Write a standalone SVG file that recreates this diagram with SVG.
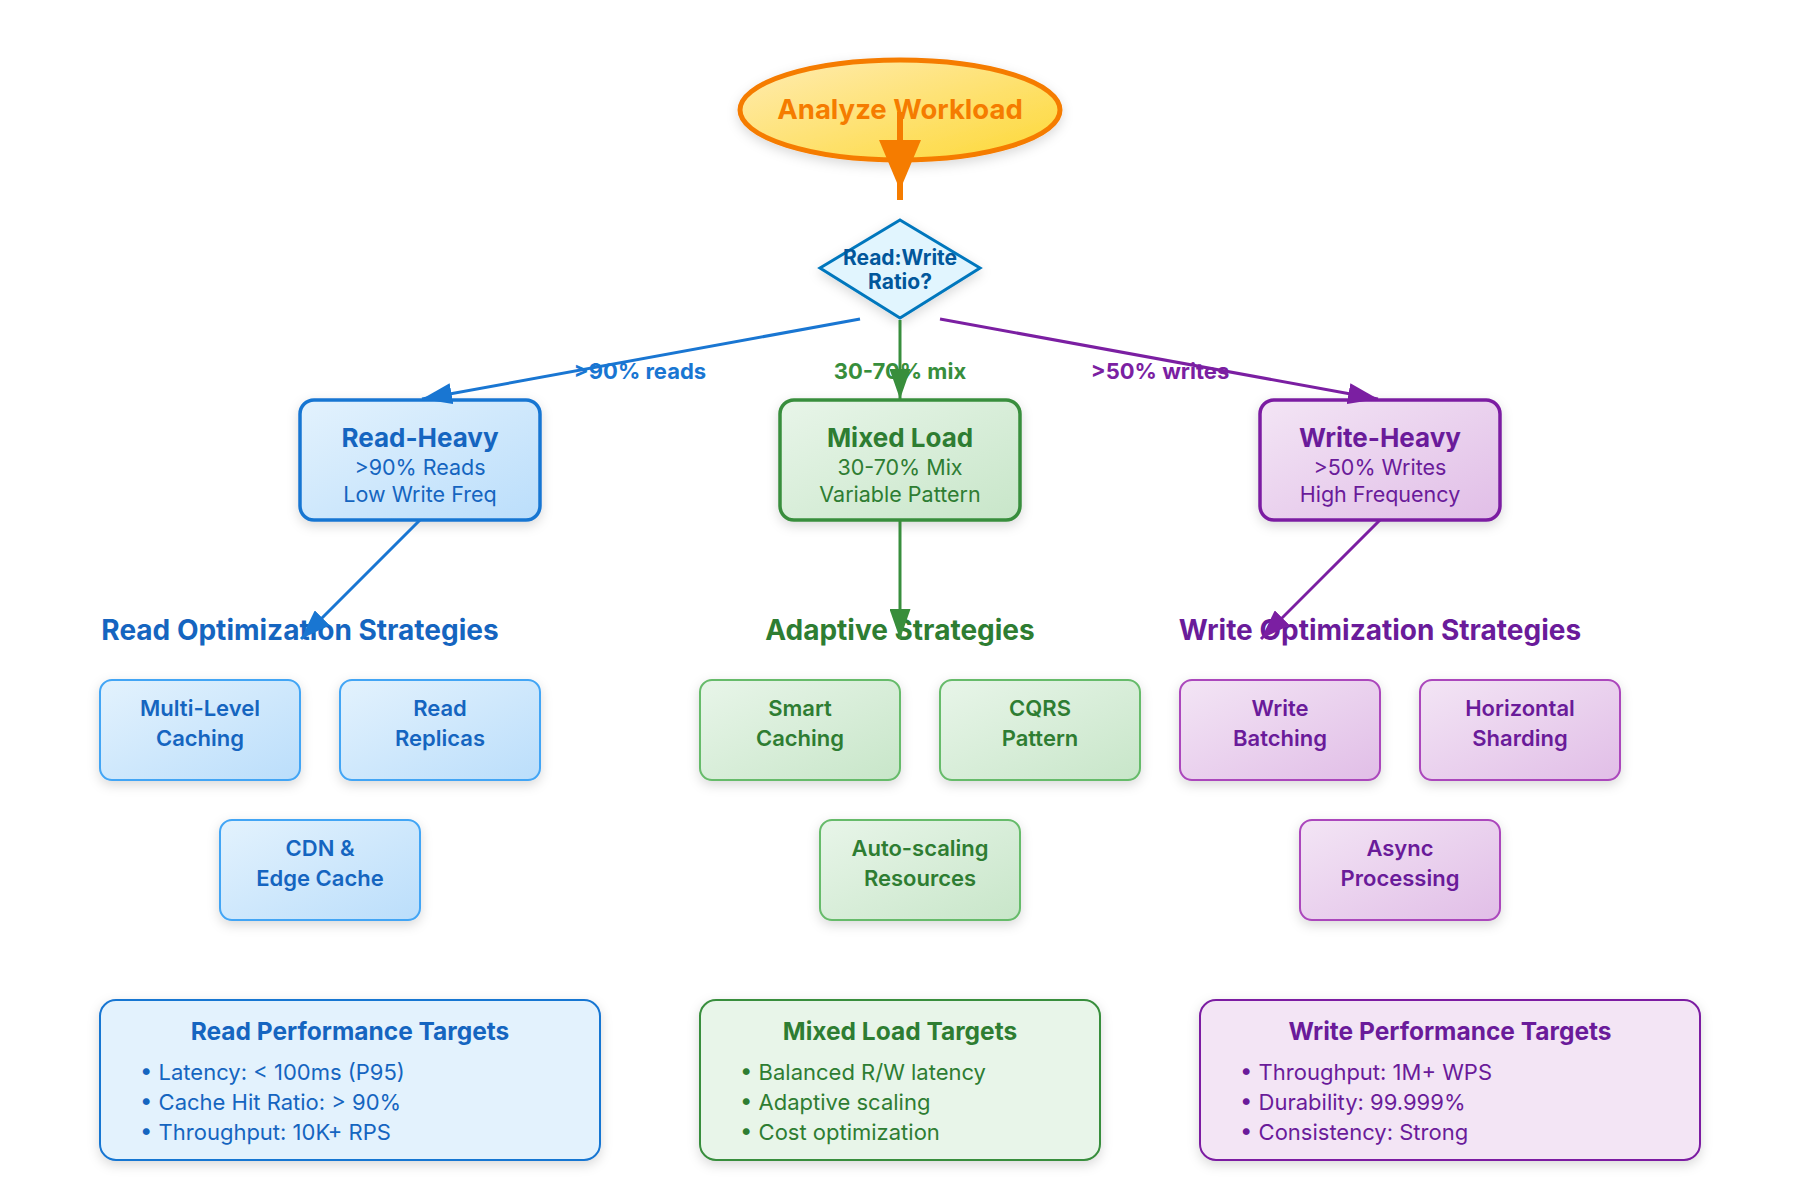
<svg xmlns="http://www.w3.org/2000/svg" width="1800" height="1200" viewBox="0 0 1800 1200">
<style>
text{font-family:Inter,"Noto Sans","Liberation Sans",sans-serif;text-anchor:middle}
.blue{fill:#1565c0}.green{fill:#2e7d32}.purple{fill:#6a1b9a}
.title{font-size:26px;font-weight:700}
.sub{font-size:21.5px;font-weight:400}
.hdr{font-size:28px;font-weight:700}
.strat{font-size:22px;font-weight:600}
.ttitle{font-size:24.5px;font-weight:700}
.bullet{font-size:22px;font-weight:400;text-anchor:start}
.elabel{font-size:22px;font-weight:700}
.main-b{fill:url(#gBlue);stroke:#1976d2;stroke-width:3.5}
.main-g{fill:url(#gGreen);stroke:#388e3c;stroke-width:3.5}
.main-p{fill:url(#gPurple);stroke:#7b1fa2;stroke-width:3.5}
.st-b{fill:url(#gBlue);stroke:#42a5f5;stroke-width:2}
.st-g{fill:url(#gGreen);stroke:#66bb6a;stroke-width:2}
.st-p{fill:url(#gPurple);stroke:#ab47bc;stroke-width:2}
.edge{fill:none;stroke-width:3}
</style>
<defs>
<linearGradient id="gBlue" x1="0" y1="0" x2="1" y2="1"><stop offset="0" stop-color="#e3f2fd"/><stop offset="1" stop-color="#bbdefb"/></linearGradient>
<linearGradient id="gGreen" x1="0" y1="0" x2="1" y2="1"><stop offset="0" stop-color="#e8f5e9"/><stop offset="1" stop-color="#c8e6c9"/></linearGradient>
<linearGradient id="gPurple" x1="0" y1="0" x2="1" y2="1"><stop offset="0" stop-color="#f3e5f5"/><stop offset="1" stop-color="#e1bee7"/></linearGradient>
<linearGradient id="gOrange" x1="0" y1="0" x2="1" y2="1"><stop offset="0" stop-color="#ffecb3"/><stop offset="1" stop-color="#fdd835"/></linearGradient>
<filter id="shadow" x="-20%" y="-20%" width="140%" height="150%"><feDropShadow dx="0" dy="4" stdDeviation="6" flood-color="#000" flood-opacity="0.15"/></filter>
<marker id="aBlue" viewBox="0 0 10 7" markerWidth="10" markerHeight="7" refX="10" refY="3.5" orient="auto"><polygon points="0 0,10 3.5,0 7" fill="#1976d2"/></marker>
<marker id="aGreen" viewBox="0 0 10 7" markerWidth="10" markerHeight="7" refX="10" refY="3.5" orient="auto"><polygon points="0 0,10 3.5,0 7" fill="#388e3c"/></marker>
<marker id="aPurple" viewBox="0 0 10 7" markerWidth="10" markerHeight="7" refX="10" refY="3.5" orient="auto"><polygon points="0 0,10 3.5,0 7" fill="#7b1fa2"/></marker>
<marker id="aOrange" viewBox="0 0 10 7" markerUnits="userSpaceOnUse" markerWidth="50" markerHeight="42" preserveAspectRatio="none" refX="12" refY="3.5" orient="auto"><polygon points="0 0,10 3.5,0 7" fill="#f57c00"/></marker>
</defs>
<rect width="1800" height="1200" fill="#ffffff"/>

<g id="start">
<ellipse cx="900" cy="110" rx="160" ry="50" fill="url(#gOrange)" stroke="#f57c00" stroke-width="5" filter="url(#shadow)"/>
<text x="900" y="119" style="font-size:27.5px;font-weight:700;fill:#f57c00">Analyze Workload</text>
</g>

<g id="decision">
<polygon points="900,220 980,268 900,318 820,268" fill="#e1f5fe" stroke="#0277bd" stroke-width="3" filter="url(#shadow)"/>
<text x="900" y="265" style="font-size:21px;font-weight:700;fill:#01579b">Read:Write</text>
<text x="900" y="289" style="font-size:21px;font-weight:700;fill:#01579b">Ratio?</text>
</g>

<g id="read-heavy">
<rect x="300" y="400" width="240" height="120" rx="14" class="main-b" filter="url(#shadow)"/>
<text x="420" y="447" class="title blue">Read-Heavy</text>
<text x="420" y="475" class="sub blue">&gt;90% Reads</text>
<text x="420" y="502" class="sub blue">Low Write Freq</text>
</g>
<g id="mixed-load">
<rect x="780" y="400" width="240" height="120" rx="14" class="main-g" filter="url(#shadow)"/>
<text x="900" y="447" class="title green">Mixed Load</text>
<text x="900" y="475" class="sub green">30-70% Mix</text>
<text x="900" y="502" class="sub green">Variable Pattern</text>
</g>
<g id="write-heavy">
<rect x="1260" y="400" width="240" height="120" rx="14" class="main-p" filter="url(#shadow)"/>
<text x="1380" y="447" class="title purple">Write-Heavy</text>
<text x="1380" y="475" class="sub purple">&gt;50% Writes</text>
<text x="1380" y="502" class="sub purple">High Frequency</text>
</g>

<g id="read-strategies-header"><text x="300" y="640" class="hdr blue">Read Optimization Strategies</text></g>
<g id="adaptive-strategies-header"><text x="900" y="640" class="hdr green">Adaptive Strategies</text></g>
<g id="write-strategies-header"><text x="1380" y="640" class="hdr purple">Write Optimization Strategies</text></g>

<g id="multi-level-caching">
<rect x="100" y="680" width="200" height="100" rx="12" class="st-b" filter="url(#shadow)"/>
<text x="200" y="716" class="strat blue">Multi-Level</text>
<text x="200" y="746" class="strat blue">Caching</text>
</g>
<g id="read-replicas">
<rect x="340" y="680" width="200" height="100" rx="12" class="st-b" filter="url(#shadow)"/>
<text x="440" y="716" class="strat blue">Read</text>
<text x="440" y="746" class="strat blue">Replicas</text>
</g>
<g id="cdn-edge-cache">
<rect x="220" y="820" width="200" height="100" rx="12" class="st-b" filter="url(#shadow)"/>
<text x="320" y="856" class="strat blue">CDN &amp;</text>
<text x="320" y="886" class="strat blue">Edge Cache</text>
</g>

<g id="smart-caching">
<rect x="700" y="680" width="200" height="100" rx="12" class="st-g" filter="url(#shadow)"/>
<text x="800" y="716" class="strat green">Smart</text>
<text x="800" y="746" class="strat green">Caching</text>
</g>
<g id="cqrs-pattern">
<rect x="940" y="680" width="200" height="100" rx="12" class="st-g" filter="url(#shadow)"/>
<text x="1040" y="716" class="strat green">CQRS</text>
<text x="1040" y="746" class="strat green">Pattern</text>
</g>
<g id="auto-scaling">
<rect x="820" y="820" width="200" height="100" rx="12" class="st-g" filter="url(#shadow)"/>
<text x="920" y="856" class="strat green">Auto-scaling</text>
<text x="920" y="886" class="strat green">Resources</text>
</g>

<g id="write-batching">
<rect x="1180" y="680" width="200" height="100" rx="12" class="st-p" filter="url(#shadow)"/>
<text x="1280" y="716" class="strat purple">Write</text>
<text x="1280" y="746" class="strat purple">Batching</text>
</g>
<g id="horizontal-sharding">
<rect x="1420" y="680" width="200" height="100" rx="12" class="st-p" filter="url(#shadow)"/>
<text x="1520" y="716" class="strat purple">Horizontal</text>
<text x="1520" y="746" class="strat purple">Sharding</text>
</g>
<g id="async-processing">
<rect x="1300" y="820" width="200" height="100" rx="12" class="st-p" filter="url(#shadow)"/>
<text x="1400" y="856" class="strat purple">Async</text>
<text x="1400" y="886" class="strat purple">Processing</text>
</g>

<g id="read-targets">
<rect x="100" y="1000" width="500" height="160" rx="16" fill="#e3f2fd" stroke="#1976d2" stroke-width="2" filter="url(#shadow)"/>
<text x="350" y="1040" class="ttitle blue">Read Performance Targets</text>
<text x="140" y="1080" class="bullet blue">• Latency: &lt; 100ms (P95)</text>
<text x="140" y="1110" class="bullet blue">• Cache Hit Ratio: &gt; 90%</text>
<text x="140" y="1140" class="bullet blue">• Throughput: 10K+ RPS</text>
</g>
<g id="mixed-targets">
<rect x="700" y="1000" width="400" height="160" rx="16" fill="#e8f5e9" stroke="#388e3c" stroke-width="2" filter="url(#shadow)"/>
<text x="900" y="1040" class="ttitle green">Mixed Load Targets</text>
<text x="740" y="1080" class="bullet green">• Balanced R/W latency</text>
<text x="740" y="1110" class="bullet green">• Adaptive scaling</text>
<text x="740" y="1140" class="bullet green">• Cost optimization</text>
</g>
<g id="write-targets">
<rect x="1200" y="1000" width="500" height="160" rx="16" fill="#f3e5f5" stroke="#7b1fa2" stroke-width="2" filter="url(#shadow)"/>
<text x="1450" y="1040" class="ttitle purple">Write Performance Targets</text>
<text x="1240" y="1080" class="bullet purple">• Throughput: 1M+ WPS</text>
<text x="1240" y="1110" class="bullet purple">• Durability: 99.999%</text>
<text x="1240" y="1140" class="bullet purple">• Consistency: Strong</text>
</g>

<g id="connectors">
<text x="640" y="379" class="elabel" style="fill:#1976d2">&gt;90% reads</text>
<text x="900" y="379" class="elabel" style="fill:#388e3c">30-70% mix</text>
<text x="1160" y="379" class="elabel" style="fill:#7b1fa2">&gt;50% writes</text>
<line x1="900" y1="112" x2="900" y2="200" stroke="#f57c00" stroke-width="6" marker-end="url(#aOrange)"/>
<line x1="860" y1="319" x2="422" y2="399" class="edge" stroke="#1976d2" marker-end="url(#aBlue)"/>
<line x1="900" y1="320" x2="900" y2="399" class="edge" stroke="#388e3c" marker-end="url(#aGreen)"/>
<line x1="940" y1="319" x2="1378" y2="399" class="edge" stroke="#7b1fa2" marker-end="url(#aPurple)"/>
<line x1="420" y1="520" x2="301" y2="639" class="edge" stroke="#1976d2" marker-end="url(#aBlue)"/>
<line x1="900" y1="520" x2="900" y2="639" class="edge" stroke="#388e3c" marker-end="url(#aGreen)"/>
<line x1="1380" y1="520" x2="1261" y2="639" class="edge" stroke="#7b1fa2" marker-end="url(#aPurple)"/>
</g>
</svg>
